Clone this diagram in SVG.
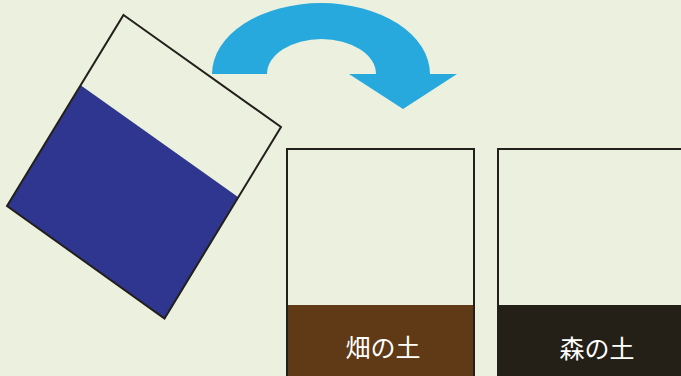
<svg xmlns="http://www.w3.org/2000/svg" width="681" height="376" viewBox="0 0 681 376">
<style>
.outline{fill:none;stroke:#231f1a;stroke-width:2}
.lbl{font-family:"Noto Sans CJK JP","Noto Sans",sans-serif;font-size:25px;fill:#ffffff;text-anchor:middle}
</style>
<rect width="681" height="376" fill="#ebf0df"/>
<g id="beaker">
<polygon points="81,85.5 238,197 164.5,318.5 7,206" fill="#2f368f"/>
<polygon class="outline" points="123.5,15 281,127 164.5,318.5 7,206"/>
</g>
<g id="connectors">
<path d="M212,74 A109,71 0 0 1 430,74 L457,74 L403,109 L349,74 L376,74 A54.5,35 0 0 0 267,74 Z" fill="#27a9dd"/>
</g>
<g id="field-soil">
<rect x="287" y="305" width="187" height="71" fill="#603a17"/>
<path class="outline" d="M287,377 V149 H474 V377"/>
<text class="lbl" x="383" y="357">畑の土</text>
</g>
<g id="forest-soil">
<rect x="498" y="305" width="183" height="71" fill="#252017"/>
<path class="outline" d="M498,377 V149 H682"/>
<text class="lbl" x="597" y="358">森の土</text>
</g>
</svg>
